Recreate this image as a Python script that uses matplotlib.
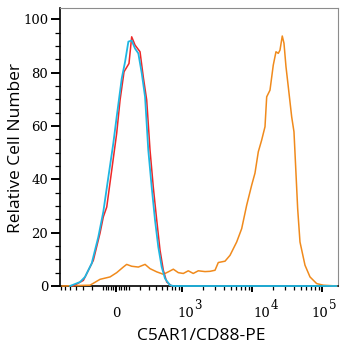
import numpy as np
import matplotlib.pyplot as plt
from matplotlib.ticker import NullFormatter
from matplotlib.transforms import blended_transform_factory

# arcsinh display for the PE channel (linear around 0, log above ~1e3)
W = 233.0


def fwd(x):
    return np.arcsinh(np.asarray(x, dtype=float) / W)


def inv(y):
    return W * np.sinh(np.asarray(y, dtype=float))


# unstained cells (red)
red_x = [-449, -300, -190, -128, -100, -72, -33, 5, 31, 62, 102, 125, 155,
         203, 237, 276, 317, 361, 412, 466, 525, 592, 705]
red_y = [0, 2.1, 9.6, 19.8, 25.9, 29.6, 43.4, 57.2, 69.7, 80.3, 83.4, 93.4,
         90.3, 87.8, 78.4, 69.7, 51, 37.1, 24.7, 13.4, 5.9, 1.5, 0]

# isotype control (cyan)
cyan_x = [-500, -343, -280, -206, -143, -100, -59, -21, 5, 44, 70, 97, 125,
          155, 186, 221, 257, 295, 339, 386, 437, 495, 558, 664, 745, 160000]
cyan_y = [0, 1.5, 3.4, 8.5, 18.4, 27.8, 40.9, 53.4, 63.4, 77.8, 84, 91.6, 92,
          89, 87.2, 79.7, 70.9, 51, 37.1, 24.7, 14.6, 7.1, 2.8, 0.3, 0, 0]

# C5AR1/CD88-PE stained (orange)
pe_x = [-664, -500, -223, -128, -46, 5, 56, 83, 125, 186, 257, 317, 412, 525,
        626, 745, 883, 1046, 1235, 1457, 1722, 2149, 2535, 2990, 3330, 4152,
        4893, 6091, 7177, 8458, 9963, 11100, 12380, 13830, 15420, 16300,
        18160, 20230, 22110, 23840, 25210, 27170, 28740, 30690, 33090, 37000,
        39890, 42600, 45020, 48580, 57240, 67450, 83970, 104300, 161600]
pe_y = [0, 0.1, 0.3, 2.5, 3.4, 5.0, 7.1, 8.1, 7.4, 7.1, 8.1, 6.5, 5.3, 4.4,
        5.3, 6.3, 5.0, 4.7, 5.7, 4.7, 5.7, 5.4, 5.5, 5.9, 8.8, 9.3, 11.5,
        16.5, 21.5, 30.3, 37.8, 42.3, 50.3, 54.7, 59.7, 70.9, 73.4, 82.8,
        87.8, 87.2, 88.4, 93.7, 91, 82.2, 74.7, 63.4, 57.8, 42.2, 29, 16.5,
        7.8, 3.4, 0.9, 0.3, 0]

x_major = [0, 1e3, 1e4, 1e5]
x_minor = ([-700, -600, -500, -400, -300, -200, -100]
           + [-80, -60, -40, -20, 20, 40, 60, 80]
           + [100, 200, 300, 400, 500, 600, 700, 800, 900]
           + [k * 1e3 for k in range(2, 10)]
           + [k * 1e4 for k in range(2, 10)])
y_major = [0, 20, 40, 60, 80, 100]
y_minor = [v for v in range(5, 100, 5) if v % 20]

tick_font = {"family": "DejaVu Serif", "size": 9.5}
label_font = {"family": "Open Sans", "size": 12.5}

fig = plt.figure(figsize=(3.46, 3.5), dpi=100)
ax = fig.add_axes([60 / 346, 1 - 286 / 350, 278 / 346, 278 / 350])
ax.set_xscale("function", functions=(fwd, inv))

ax.plot(pe_x, pe_y, color="#f08a1c", lw=1.1, clip_on=False, zorder=3)
ax.plot(red_x, red_y, color="#ee2828", lw=1.1, clip_on=False, zorder=4)
ax.plot(cyan_x, cyan_y, color="#1fb6e2", lw=1.3, clip_on=False, zorder=5)

ax.set_xlim(-713, 169000)
ax.set_ylim(0, 104.2)

for side in ("left", "bottom"):
    ax.spines[side].set_color("black")
    ax.spines[side].set_linewidth(1.2)
for side in ("top", "right"):
    ax.spines[side].set_color("#8c8c8c")
    ax.spines[side].set_linewidth(0.8)

ax.set_yticks(y_major)
ax.set_yticks(y_minor, minor=True)
ax.set_yticklabels([str(v) for v in y_major], fontdict=tick_font)
ax.tick_params(axis="y", which="major", length=6.5, width=1.4, pad=2)
ax.tick_params(axis="y", which="minor", length=3.5, width=0.9)

ax.set_xticks(x_major)
ax.set_xticks(x_minor, minor=True)
ax.xaxis.set_major_formatter(NullFormatter())
ax.xaxis.set_minor_formatter(NullFormatter())
ax.tick_params(axis="x", which="major", length=4.5, width=1.4)
ax.tick_params(axis="x", which="minor", length=3, width=0.9)

# decade labels: "10" plus a raised exponent
base = blended_transform_factory(ax.transData, ax.transAxes)
ax.annotate("0", xy=(0, 0), xycoords=base, xytext=(0.5, -22.3),
            textcoords="offset points", ha="center", va="baseline", **tick_font)
for val, exp, dx in zip(x_major[1:], ["3", "4", "5"], [-3.6, 0.9, -7.4]):
    ax.annotate("10", xy=(val, 0), xycoords=base, xytext=(dx, -22.3),
                textcoords="offset points", ha="left", va="baseline",
                **tick_font)
    ax.annotate(exp, xy=(val, 0), xycoords=base, xytext=(dx + 12.6, -16.3),
                textcoords="offset points", ha="left", va="baseline",
                family="DejaVu Serif", size=8.5)

fig.text(16 / 346, 1 - 148 / 350, "Relative Cell Number", rotation=90,
         ha="center", va="center", **label_font)
fig.text(201 / 346, 1 - 340 / 350, "C5AR1/CD88-PE", ha="center",
         va="baseline", **label_font)

fig.savefig("out.png", dpi=100)
